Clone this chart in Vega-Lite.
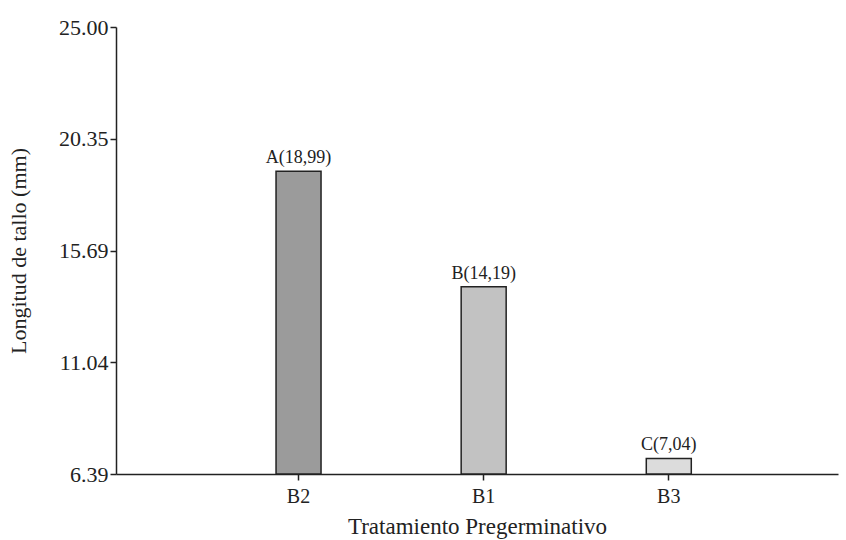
{
  "$schema": "https://vega.github.io/schema/vega-lite/v6.json",
  "width": 722,
  "height": 447,
  "autosize": {"type": "none"},
  "padding": {"left": 116, "top": 27, "right": 8, "bottom": 66},
  "background": "white",
  "config": {
    "view": {"stroke": null},
    "font": "Liberation Serif"
  },
  "data": {
    "values": [
      {"tratamiento": "B2", "longitud": 18.99, "etiqueta": "A(18,99)"},
      {"tratamiento": "B1", "longitud": 14.19, "etiqueta": "B(14,19)"},
      {"tratamiento": "B3", "longitud": 7.04, "etiqueta": "C(7,04)"}
    ]
  },
  "encoding": {
    "x": {
      "field": "tratamiento",
      "type": "nominal",
      "sort": ["B2", "B1", "B3"],
      "scale": {"paddingInner": 0, "paddingOuter": 0.45, "align": 0.54},
      "axis": {
        "title": "Tratamiento Pregerminativo",
        "labelAngle": 0,
        "labelFont": "Liberation Serif",
        "labelFontSize": 20,
        "labelColor": "#222",
        "labelPadding": 6,
        "titleFont": "Liberation Serif",
        "titleFontSize": 23,
        "titleFontWeight": "normal",
        "titleColor": "#222",
        "titleBaseline": "alphabetic",
        "titleY": 59,
        "domainColor": "#222",
        "domainWidth": 1.5,
        "tickColor": "#222",
        "tickWidth": 1.5,
        "tickSize": 6,
        "grid": false
      }
    },
    "y": {
      "field": "longitud",
      "type": "quantitative",
      "scale": {"domain": [6.39, 25], "zero": false, "nice": false},
      "axis": {
        "title": "Longitud de tallo (mm)",
        "values": [6.39, 11.04, 15.69, 20.35, 25.0],
        "format": ".2f",
        "labelFont": "Liberation Serif",
        "labelFontSize": 22,
        "labelColor": "#222",
        "labelPadding": 2,
        "titleFont": "Liberation Serif",
        "titleFontSize": 22,
        "titleFontWeight": "normal",
        "titleColor": "#222",
        "titleX": -86,
        "domainColor": "#222",
        "domainWidth": 1.5,
        "tickColor": "#222",
        "tickWidth": 1.5,
        "tickSize": 6,
        "grid": false
      }
    }
  },
  "layer": [
    {
      "mark": {"type": "bar", "size": 45, "stroke": "#222", "strokeWidth": 1.5},
      "encoding": {
        "y2": {"datum": 6.39},
        "color": {
          "field": "tratamiento",
          "type": "nominal",
          "scale": {"domain": ["B2", "B1", "B3"], "range": ["#9b9b9b", "#c2c2c2", "#dcdcdc"]},
          "legend": null
        }
      }
    },
    {
      "mark": {"type": "text", "baseline": "alphabetic", "dy": -8, "fontSize": 18, "font": "Liberation Serif", "color": "#222"},
      "encoding": {
        "text": {"field": "etiqueta"}
      }
    }
  ]
}
